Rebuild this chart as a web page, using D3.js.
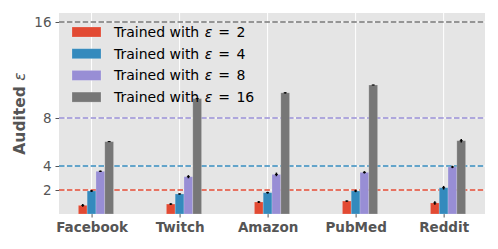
<!doctype html>
<html>
<head>
<script src="https://d3js.org/d3.v7.min.js"></script>
<style>
  body { margin: 0; background: #fff; }
  text { font-family: "DejaVu Sans", sans-serif; }
  .tick text { fill: #555; }
</style>
</head>
<body>
<svg id="chart" width="498" height="249"></svg>
<script>
// values
const categories = ["Facebook", "Twitch", "Amazon", "PubMed", "Reddit"];
const trainedEps = [2, 4, 8, 16];
const colors = ["#E24A33", "#348ABD", "#988ED5", "#777777"];
const yTicks = [2, 4, 8, 16];

const eps2 = [0.72, 0.83, 1.00, 1.08, 0.92];
const eps4 = [1.92, 1.67, 1.78, 1.92, 2.19];
const eps8 = [3.56, 3.11, 3.30, 3.47, 3.92];
const eps16 = [6.03, 9.62, 10.10, 10.75, 6.11];

const eps2Err = [0.12, 0.07, 0.08, 0.05, 0.15];
const eps4Err = [0.08, 0.05, 0.08, 0.10, 0.15];
const eps8Err = [0.06, 0.13, 0.15, 0.10, 0.10];
const eps16Err = [0.03, 0.05, 0.05, 0.03, 0.15];

const series = [eps2, eps4, eps8, eps16];
const errs = [eps2Err, eps4Err, eps8Err, eps16Err];
const offsets = [-0.1, 0, 0.1, 0.2];
const barW = 0.1;

const svg = d3.select("#chart");
const mLeft = 59, mRight = 485, mTop = 13, mBottom = 214;

const x = d3.scaleLinear().domain([-0.37, 4.47]).range([mLeft, mRight]);
const y = d3.scaleLinear().domain([0, 16.75]).range([mBottom, mTop]);

svg.append("rect")
  .attr("x", mLeft).attr("y", mTop)
  .attr("width", mRight - mLeft).attr("height", mBottom - mTop)
  .attr("fill", "#E5E5E5");

// grid
svg.append("g").selectAll("line")
  .data(categories.map((c, i) => i))
  .join("line")
  .attr("x1", d => x(d)).attr("x2", d => x(d))
  .attr("y1", mTop).attr("y2", mBottom)
  .attr("stroke", "#fff").attr("stroke-width", 1);
svg.append("g").selectAll("line")
  .data(yTicks)
  .join("line")
  .attr("x1", mLeft).attr("x2", mRight)
  .attr("y1", d => y(d)).attr("y2", d => y(d))
  .attr("stroke", "#fff").attr("stroke-width", 1);

// axes
const yAxis = svg.append("g")
  .attr("transform", `translate(${mLeft},0)`)
  .call(d3.axisLeft(y).tickValues(yTicks).tickSize(3.5).tickPadding(4));
yAxis.select(".domain").remove();
yAxis.selectAll(".tick line").attr("stroke", "#555");
yAxis.selectAll(".tick text").attr("font-size", 13.5);

const xAxis = svg.append("g")
  .attr("transform", `translate(0,${mBottom})`)
  .call(d3.axisBottom(x).tickValues(categories.map((c, i) => i))
    .tickFormat(i => categories[i]).tickSize(3.5).tickPadding(5));
xAxis.select(".domain").remove();
xAxis.selectAll(".tick line").attr("stroke", "#555");
xAxis.selectAll(".tick text").attr("font-size", 13.5).attr("font-weight", "bold");

// reference lines
svg.append("g").selectAll("line")
  .data(trainedEps)
  .join("line")
  .attr("x1", mLeft).attr("x2", mRight)
  .attr("y1", d => y(d)).attr("y2", d => y(d))
  .attr("stroke", (d, i) => colors[i])
  .attr("stroke-width", 1.5)
  .attr("stroke-dasharray", "5.5 2.4");

// bars
series.forEach((vals, s) => {
  const g = svg.append("g");
  g.selectAll("rect")
    .data(vals)
    .join("rect")
    .attr("x", (d, i) => x(i + offsets[s] - barW / 2))
    .attr("y", d => y(d))
    .attr("width", x(barW) - x(0))
    .attr("height", d => y(0) - y(d))
    .attr("fill", colors[s])
    .attr("stroke", "#fff")
    .attr("stroke-opacity", 0.25)
    .attr("stroke-width", 0.8);
  g.selectAll("line.err")
    .data(vals)
    .join("line")
    .attr("class", "err")
    .attr("x1", (d, i) => x(i + offsets[s])).attr("x2", (d, i) => x(i + offsets[s]))
    .attr("y1", (d, i) => y(d - errs[s][i])).attr("y2", (d, i) => y(d + errs[s][i]))
    .attr("stroke", "#000").attr("stroke-width", 1.5);
  g.selectAll("line.cap")
    .data(vals)
    .join("line")
    .attr("class", "cap")
    .attr("x1", (d, i) => x(i + offsets[s]) - 1.5).attr("x2", (d, i) => x(i + offsets[s]) + 1.5)
    .attr("y1", d => y(d)).attr("y2", d => y(d))
    .attr("stroke", "#000").attr("stroke-width", 1);
});

// legend
const legend = svg.append("g");
trainedEps.forEach((e, i) => {
  const cy = 32 + i * 21.7;
  legend.append("rect")
    .attr("x", 72).attr("y", cy - 5)
    .attr("width", 29).attr("height", 10)
    .attr("fill", colors[i])
    .attr("stroke", "#fff").attr("stroke-opacity", 0.25).attr("stroke-width", 0.8);
  const t = legend.append("text")
    .attr("x", 114).attr("y", cy + 5)
    .attr("font-size", 14).attr("fill", "#000");
  t.append("tspan").text("Trained with ");
  t.append("tspan").attr("dx", 1).attr("font-style", "italic").text("ε");
  t.append("tspan").attr("dx", 1.5).text(" =");
  t.append("tspan").attr("dx", 2).text(" " + e);
});

// y label
const yl = svg.append("text")
  .attr("transform", "translate(25,113.5) rotate(-90)")
  .attr("text-anchor", "middle")
  .attr("font-size", 15.5).attr("font-weight", "bold").attr("fill", "#555");
yl.append("tspan").text("Audited ");
yl.append("tspan").attr("font-style", "italic").attr("font-weight", "normal").text("ε");
</script>
</body>
</html>
